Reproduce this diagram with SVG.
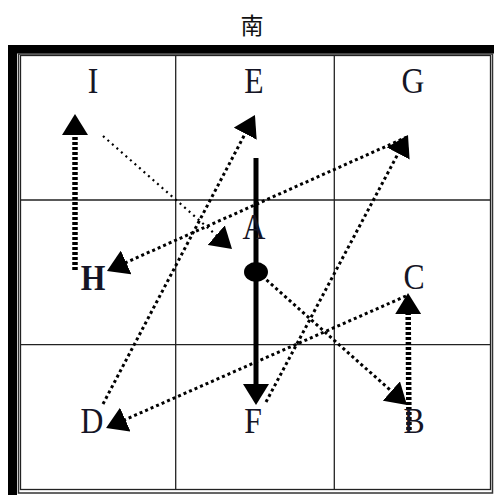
<svg xmlns="http://www.w3.org/2000/svg" width="494" height="495" viewBox="0 0 494 495">
<style>
.lbl{font-family:"Liberation Serif","Times New Roman",serif;font-size:36px;fill:#151525;text-anchor:middle}
.title{font-family:"Noto Sans CJK SC","Noto Sans CJK TC",sans-serif;font-size:23px;fill:#111;text-anchor:middle}
.grid{stroke:#222;stroke-width:1.3;fill:none}
.dot{stroke:#000;stroke-width:3;stroke-dasharray:3 3;fill:none;marker-end:url(#ah)}
.thin{stroke:#000;stroke-width:2.2;stroke-dasharray:2 4;fill:none;marker-end:url(#ah)}
.dash{stroke:#000;stroke-width:5.5;stroke-dasharray:3 2;fill:none;marker-end:url(#ah)}
.solid{stroke:#000;stroke-width:5;fill:none;marker-end:url(#ah)}
</style>
<defs>
<marker id="ah" markerUnits="userSpaceOnUse" markerWidth="22" markerHeight="26" refX="11" refY="13" orient="auto">
<path d="M0,0 L21,13 L0,26 z" fill="#000"/>
</marker>
</defs>
<rect width="494" height="495" fill="#fff"/>
<text class="title" x="252" y="34">南</text>
<g id="frame">
<rect x="8" y="45" width="486" height="8.5" fill="#000"/>
<rect x="8" y="45" width="9" height="450" fill="#000"/>
<rect x="18.5" y="54" width="474" height="439" fill="none" stroke="#333" stroke-width="1.5"/>
<rect x="20.5" y="55.5" width="470" height="434" class="grid"/>
<line x1="175.7" y1="55" x2="175.7" y2="490" class="grid"/>
<line x1="334.3" y1="55" x2="334.3" y2="490" class="grid"/>
<line x1="20" y1="200" x2="490" y2="200" class="grid"/>
<line x1="20" y1="344.7" x2="490" y2="344.7" class="grid"/>
</g>
<g id="connectors">
<line class="dash" x1="75" y1="270" x2="75" y2="124"/>
<line class="thin" x1="103" y1="136" x2="224.5" y2="242.4"/>
<line class="dot" x1="103" y1="404" x2="250.3" y2="123.9"/>
<line class="solid" x1="256" y1="158" x2="256" y2="395"/>
<line class="dot" x1="266" y1="402" x2="403.3" y2="143.8"/>
<line class="dot" x1="407" y1="137" x2="116.1" y2="266.9"/>
<line class="dash" x1="409" y1="430" x2="408.1" y2="303"/>
<line class="dot" x1="406" y1="296" x2="115.2" y2="424"/>
<line class="dot" x1="262" y1="276" x2="399.5" y2="398.4"/>
</g>
<g id="node-A">
<ellipse cx="256" cy="272" rx="12" ry="10" fill="#000"/>
<text class="lbl" transform="translate(254 239) scale(0.88 1)">A</text>
</g>
<g id="node-I"><text class="lbl" transform="translate(93 93) scale(0.88 1)">I</text></g>
<g id="node-E"><text class="lbl" transform="translate(254 93) scale(0.88 1)">E</text></g>
<g id="node-G"><text class="lbl" transform="translate(413 93) scale(0.88 1)">G</text></g>
<g id="node-H"><text class="lbl" font-weight="bold" transform="translate(93 290) scale(0.88 1)">H</text></g>
<g id="node-C"><text class="lbl" transform="translate(414 289) scale(0.88 1)">C</text></g>
<g id="node-D"><text class="lbl" transform="translate(92 433) scale(0.88 1)">D</text></g>
<g id="node-F"><text class="lbl" transform="translate(253 433) scale(0.88 1)">F</text></g>
<g id="node-B"><text class="lbl" transform="translate(414 433) scale(0.88 1)">B</text></g>
</svg>
